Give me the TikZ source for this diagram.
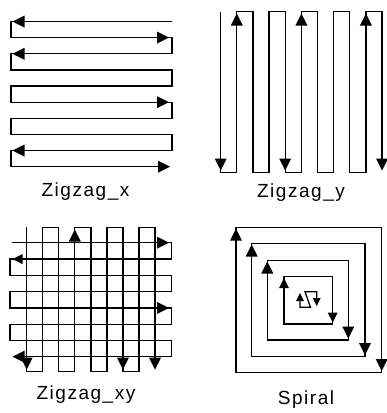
\documentclass[tikz,border=0pt]{standalone}
\usepackage{fontspec}
\newfontfamily\capfont[LetterSpace=8]{Liberation Sans}
\tikzset{
  track/.style={line width=1.3pt, line join=miter, draw=black},
  captext/.style={font=\capfont\fontsize{19}{21}\selectfont, anchor=base, inner sep=0pt}
}
% solid arrowheads: tip at (#2,#3), #1 = length, half width = #1/2
\newcommand\hdU[3][12]{\fill (#2,#3) -- ++(-#1/2,#1) -- ++(#1,0) -- cycle;}
\newcommand\hdD[3][12]{\fill (#2,#3) -- ++(-#1/2,-#1) -- ++(#1,0) -- cycle;}
\newcommand\hdL[3][12]{\fill (#2,#3) -- ++(#1,-#1/2) -- ++(0,#1) -- cycle;}
\newcommand\hdR[3][12]{\fill (#2,#3) -- ++(-#1,-#1/2) -- ++(0,#1) -- cycle;}
\begin{document}
\begin{tikzpicture}[x=1pt,y=-1pt]
\useasboundingbox (0,0) rectangle (387,413);

% ---------- Zigzag_x ----------
\draw[track] (172,21.5) -- (11,21.5) -- (11,37.6) -- (172,37.6) -- (172,53.8) -- (11,53.8)
  -- (11,69.9) -- (172,69.9) -- (172,86.0) -- (11,86.0) -- (11,102.2) -- (172,102.2)
  -- (172,118.3) -- (11,118.3) -- (11,134.4) -- (172,134.4) -- (172,150.5) -- (11,150.5)
  -- (11,166.7) -- (168,166.7);
\hdL{12.5}{21.5}
\hdR{169}{37.6}
\hdL{12.5}{53.8}
\hdR{169}{102.2}
\hdL{12.5}{150.5}
\hdR{170}{166.7}
\node[captext] (capx) at (85.5,196.5) {Zigzag\_x};

% ---------- Zigzag_y ----------
\draw[track] (220.7,11.7) -- (220.7,172.7) -- (236.8,172.7) -- (236.8,11.7) -- (253,11.7)
  -- (253,172.7) -- (269.1,172.7) -- (269.1,11.7) -- (285.2,11.7) -- (285.2,172.7)
  -- (301.4,172.7) -- (301.4,11.7) -- (317.5,11.7) -- (317.5,172.7) -- (333.6,172.7)
  -- (333.6,11.7) -- (349.7,11.7) -- (349.7,172.7) -- (365.9,172.7) -- (365.9,11.7)
  -- (382,11.7) -- (382,169);
\hdD{220.7}{170.5}
\hdU{236.8}{13.5}
\hdD{285.2}{170.5}
\hdU{301.4}{13.5}
\hdU{365.9}{13.5}
\hdD{382}{170.5}
\node[captext] (capy) at (301,197) {Zigzag\_y};

% ---------- Zigzag_xy ----------
\draw[track] (26.7,227.3) -- (26.7,371.7) -- (42.7,371.7) -- (42.7,227.3) -- (58.8,227.3)
  -- (58.8,371.7) -- (74.8,371.7) -- (74.8,227.3) -- (90.9,227.3) -- (90.9,371.7)
  -- (106.9,371.7) -- (106.9,227.3) -- (122.9,227.3) -- (122.9,371.7) -- (139,371.7)
  -- (139,227.3) -- (155,227.3) -- (155,368);
\draw[track] (11.7,242.7) -- (171.7,242.7) -- (171.7,259) -- (10,259) -- (10,275.3)
  -- (171.7,275.3) -- (171.7,291.6) -- (10,291.6) -- (10,307.9) -- (171.7,307.9)
  -- (171.7,324.2) -- (10,324.2) -- (10,340.4) -- (171.7,340.4) -- (171.7,356.7)
  -- (14,356.7);
\hdD{26.7}{369.5}
\hdU{74.8}{229.5}
\hdD{122.9}{369.5}
\hdD{155}{369.5}
\hdR{169}{242.7}
\hdL[10]{12.5}{259}
\hdR{169}{307.9}
\hdL{12.5}{356.7}
\node[captext] (capxy) at (86,399.3) {Zigzag\_xy};

% ---------- Spiral ----------
\draw[track] (236,227.3) rectangle (381.7,372.7);
\draw[track] (251.7,243.3) rectangle (365,356.7);
\draw[track] (267.3,260.7) rectangle (348.3,340);
\draw[track] (284,276.7) rectangle (332.7,324);
\draw[track] (300,294) -- (300,307.3) -- (310.5,307.3) -- (305,291.7) -- (316.7,291.7) -- (316.7,305);
\hdU{236}{228.5}
\hdU{251.7}{244.5}
\hdU{267.3}{261.5}
\hdU[10]{284}{278}
\hdD{381.7}{371}
\hdD{365}{355}
\hdD{348.3}{338.5}
\hdD[10]{332.7}{322.5}
\hdU[8]{300}{293}
\hdD[8]{316.7}{306}
\node[captext] (capsp) at (306,404.3) {Spiral};
\end{tikzpicture}
\end{document}
